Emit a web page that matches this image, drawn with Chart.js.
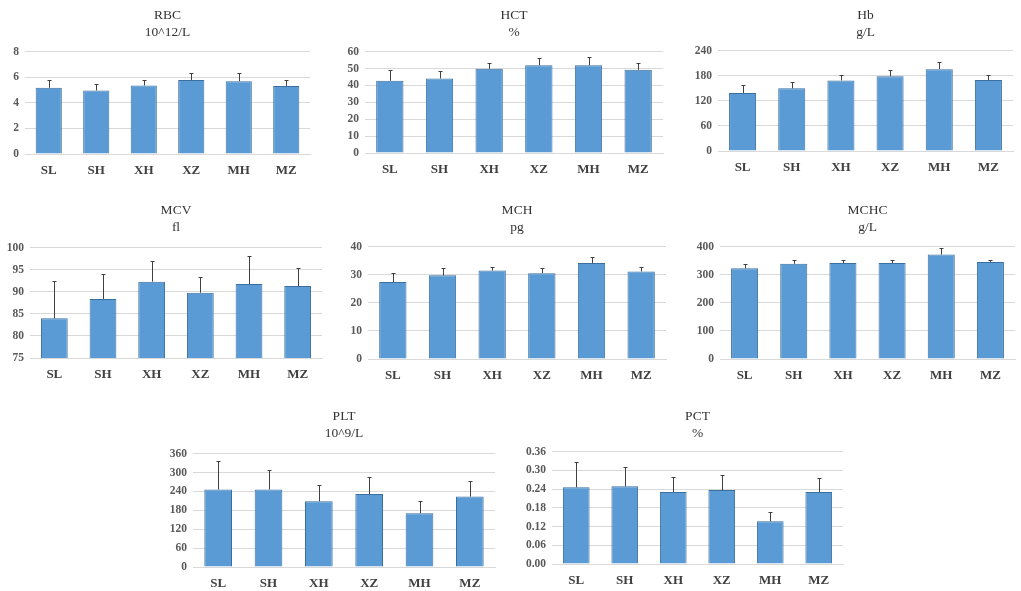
<!DOCTYPE html>
<html>
<head>
<meta charset="utf-8">
<title>Blood indices</title>
<script src="https://cdn.jsdelivr.net/npm/chart.js@4.4.1/dist/chart.umd.min.js"></script>
<style>
  body { margin: 0; background: #fff; }
  #wrap { position: relative; width: 1021px; height: 591px; overflow: hidden; }
  .panel { position: absolute; }
</style>
</head>
<body>
<div id="wrap"></div>
<script>
// groups
var groups = ["SL", "SH", "XH", "XZ", "MH", "MZ"];

// means and standard deviations
var rbcMean = [5.18, 4.97, 5.36, 5.78, 5.70, 5.33];
var rbcSd = [0.60, 0.52, 0.42, 0.52, 0.60, 0.45];
var hctMean = [42.8, 44.2, 49.9, 52.0, 52.0, 49.3];
var hctSd = [6.1, 4.1, 3.3, 4.5, 5.1, 3.9];
var hbMean = [139, 150, 169, 179, 196, 170];
var hbSd = [18, 16, 12, 15, 18, 13];
var mcvMean = [84.0, 88.4, 92.3, 89.8, 91.8, 91.3];
var mcvSd = [8.4, 5.6, 4.7, 3.5, 6.3, 4.0];
var mchMean = [27.4, 29.8, 31.5, 30.6, 34.2, 31.2];
var mchSd = [3.4, 2.8, 1.2, 1.7, 2.3, 1.6];
var mchcMean = [323, 339, 342, 342, 372, 346];
var mchcSd = [17, 14, 10, 10, 23, 6];
var pltMean = [246, 246, 209, 232, 171, 224];
var pltSd = [90, 62, 51, 55, 38, 49];
var pctMean = [0.246, 0.249, 0.231, 0.237, 0.137, 0.231];
var pctSd = [0.082, 0.062, 0.049, 0.047, 0.029, 0.045];

// y axis ranges [min, max, step, decimals]
var rbcAxis = [0, 8, 2, 0];
var hctAxis = [0, 60, 10, 0];
var hbAxis = [0, 240, 60, 0];
var mcvAxis = [75, 100, 5, 0];
var mchAxis = [0, 40, 10, 0];
var mchcAxis = [0, 400, 100, 0];
var pltAxis = [0, 360, 60, 0];
var pctAxis = [0, 0.36, 0.06, 2];

var serif = "'Liberation Serif', 'Times New Roman', serif";

// upper error bars
var errorBars = {
  id: "errorBars",
  afterDatasetsDraw: function(chart) {
    var ctx = chart.ctx;
    var yScale = chart.scales.y;
    var meta = chart.getDatasetMeta(0);
    var sd = chart.data.datasets[0].sd;
    ctx.save();
    ctx.strokeStyle = "#404040";
    ctx.lineWidth = 1;
    meta.data.forEach(function(bar, i) {
      var v = chart.data.datasets[0].data[i];
      var x = Math.round(bar.x) + 0.5;
      var y0 = yScale.getPixelForValue(v);
      var y1 = Math.round(yScale.getPixelForValue(v + sd[i])) + 0.5;
      ctx.beginPath();
      ctx.moveTo(x, y0);
      ctx.lineTo(x, y1);
      ctx.moveTo(x - 2, y1);
      ctx.lineTo(x + 2, y1);
      ctx.stroke();
    });
    ctx.restore();
  }
};

function panel(name, unit, mean, sd, axis, box) {
  var div = document.createElement("div");
  div.className = "panel";
  div.style.left = box.left + "px";
  div.style.top = box.top + "px";
  div.style.width = box.width + "px";
  div.style.height = box.height + "px";
  var canvas = document.createElement("canvas");
  div.appendChild(canvas);
  document.getElementById("wrap").appendChild(div);

  new Chart(canvas, {
    type: "bar",
    data: {
      labels: groups,
      datasets: [{
        data: mean,
        sd: sd,
        backgroundColor: "#5b9bd5",
        borderColor: "#3a6f9f",
        borderWidth: 1,
        categoryPercentage: 1,
        barPercentage: 0.55
      }]
    },
    options: {
      responsive: true,
      maintainAspectRatio: false,
      animation: false,
      layout: { padding: { left: 0, right: box.right, top: 0, bottom: 2 } },
      plugins: {
        legend: { display: false },
        tooltip: { enabled: false },
        title: {
          display: true,
          text: [name, unit],
          fullSize: false,
          color: "#333333",
          font: { family: serif, size: 13.5, weight: "normal", lineHeight: 1.25 },
          padding: { top: box.titleTop, bottom: box.titleGap }
        }
      },
      scales: {
        x: {
          grid: { display: false },
          border: { display: true, color: "#d9d9d9" },
          ticks: { color: "#404040", font: { family: serif, size: 13, weight: "bold" }, padding: 1 },
          afterFit: function(s) { s.height = box.xh; }
        },
        y: {
          min: axis[0],
          max: axis[1],
          grid: { color: "#d9d9d9", drawTicks: false },
          border: { display: false },
          ticks: {
            stepSize: axis[2],
            padding: 6,
            color: "#595959",
            font: { family: serif, size: 11.5, weight: "bold" },
            callback: function(v) { return Number(v).toFixed(axis[3]); }
          },
          afterFit: function(s) { s.width = box.yw; }
        }
      }
    },
    plugins: [errorBars]
  });
}

panel("RBC", "10^12/L", rbcMean, rbcSd, rbcAxis, { left: 0, top: 0, width: 318, height: 180, yw: 25, right: 8, xh: 24, titleTop: 7, titleGap: 11 });
panel("HCT", "%", hctMean, hctSd, hctAxis, { left: 340, top: 0, width: 330, height: 180, yw: 25, right: 7, xh: 25, titleTop: 7, titleGap: 11 });
panel("Hb", "g/L", hbMean, hbSd, hbAxis, { left: 680, top: 0, width: 341, height: 180, yw: 38, right: 8, xh: 27, titleTop: 7, titleGap: 10 });
panel("MCV", "fl", mcvMean, mcvSd, mcvAxis, { left: 0, top: 192, width: 330, height: 192, yw: 30, right: 8, xh: 24, titleTop: 10, titleGap: 12 });
panel("MCH", "pg", mchMean, mchSd, mchAxis, { left: 340, top: 192, width: 334, height: 192, yw: 28, right: 8, xh: 23, titleTop: 10, titleGap: 11 });
panel("MCHC", "g/L", mchcMean, mchcSd, mchcAxis, { left: 680, top: 192, width: 341, height: 192, yw: 40, right: 6, xh: 23, titleTop: 10, titleGap: 11 });
panel("PLT", "10^9/L", pltMean, pltSd, pltAxis, { left: 160, top: 398, width: 343, height: 193, yw: 33, right: 8, xh: 22, titleTop: 10, titleGap: 12 });
panel("PCT", "%", pctMean, pctSd, pctAxis, { left: 510, top: 398, width: 341, height: 193, yw: 42, right: 8, xh: 25, titleTop: 10, titleGap: 10 });
</script>
</body>
</html>
